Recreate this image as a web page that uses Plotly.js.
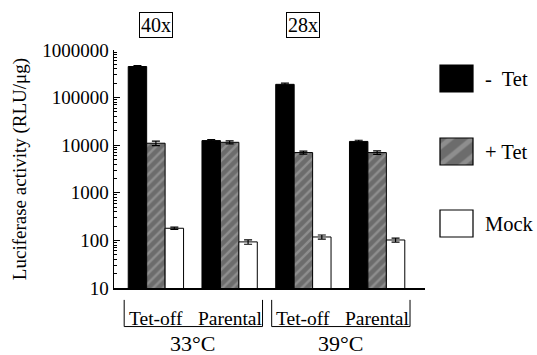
<!DOCTYPE html>
<html>
<head>
<meta charset="utf-8">
<script src="https://cdn.plot.ly/plotly-3.0.1.min.js"></script>
<style>html,body{margin:0;padding:0;background:#fff;}#chart{width:537px;height:355px;}</style>
</head>
<body>
<div id="chart"></div>
<script>
// ---- data ----
var groupLabels = ['Tet-off', 'Parental', 'Tet-off', 'Parental'];
var groupPos = [0, 1, 2, 3];
var temps = ['33°C', '39°C'];
var foldLabels = ['40x', '28x'];
var seriesNames = ['-  Tet', '+ Tet', 'Mock'];
var minusTet = [450000, 12500, 190000, 12000];
var minusTetErr = [20000, 600, 12000, 700];
var plusTet = [11000, 11500, 7000, 7000];
var plusTetErr = [1200, 800, 500, 600];
var mock = [180, 93, 118, 102];
var mockErr = [10, 10, 12, 10];

var FONT = 'Liberation Serif';

function errbar(arr) {
  return {type: 'data', array: arr, visible: true, color: '#000', thickness: 1.2, width: 4};
}

var traces = [
  {type: 'bar', name: seriesNames[0], x: groupPos, y: minusTet, error_y: errbar(minusTetErr),
   legendgroup: 'a',
   marker: {color: '#000', line: {color: '#000', width: 1}}},
  {type: 'bar', name: seriesNames[1], x: groupPos, y: plusTet, error_y: errbar(plusTetErr),
   legendgroup: 'b',
   marker: {color: '#777', line: {color: '#000', width: 1},
            pattern: {shape: '/', bgcolor: '#6c6c6c', fgcolor: '#8e8e8e', size: 7, solidity: 0.35, fillmode: 'replace'}}},
  {type: 'bar', name: seriesNames[2], x: groupPos, y: mock, error_y: errbar(mockErr),
   legendgroup: 'c',
   marker: {color: '#fff', line: {color: '#000', width: 1}}}
];

var annotations = [];
var shapes = [];
// fold-change boxes above groups 0 and 2
foldLabels.forEach(function (t, i) {
  annotations.push({text: t, x: groupPos[i * 2], xref: 'x', y: 1.105, yref: 'paper',
    showarrow: false, font: {family: FONT, size: 20, color: '#000'},
    bordercolor: '#000', borderwidth: 1, borderpad: 1, xanchor: 'center', yanchor: 'middle'});
});
// group labels
groupLabels.forEach(function (t, i) {
  annotations.push({text: t, x: groupPos[i], xref: 'x', y: -0.128, yref: 'paper',
    showarrow: false, font: {family: FONT, size: 19.5, color: '#000'}, xanchor: 'center', yanchor: 'middle'});
});
// temperature labels + brackets
temps.forEach(function (t, i) {
  var a = groupPos[i * 2], b = groupPos[i * 2 + 1];
  annotations.push({text: t, x: (a + b) / 2, xref: 'x', y: -0.232, yref: 'paper',
    showarrow: false, font: {family: FONT, size: 22, color: '#000'}, xanchor: 'center', yanchor: 'middle'});
  var l = a - 0.43, r = b + 0.446;
  shapes.push({type: 'path', xref: 'x', yref: 'paper',
    path: 'M' + l + ',' + (-0.05) + ' L' + l + ',' + (-0.162) + ' L' + r + ',' + (-0.162) + ' L' + r + ',' + (-0.05),
    line: {color: '#000', width: 1}});
});

var layout = {
  width: 537, height: 355,
  margin: {l: 114, r: 111, t: 50, b: 67},
  paper_bgcolor: '#fff', plot_bgcolor: '#fff',
  font: {family: FONT, color: '#000'},
  barmode: 'group', bargap: 0.25, bargroupgap: 0,
  showlegend: true,
  legend: {x: 1.02, xanchor: 'left', y: 0.965, yanchor: 'top', font: {family: FONT, size: 20.5},
           tracegroupgap: 46, itemclick: false, bgcolor: 'rgba(0,0,0,0)'},
  xaxis: {range: [-0.568, 3.649], showline: true, linecolor: '#000', linewidth: 1.5,
          showticklabels: false, ticks: '', showgrid: false, zeroline: false, fixedrange: true},
  yaxis: {type: 'log', range: [1, 6], showline: true, linecolor: '#000', linewidth: 1.5,
          tickvals: [10, 100, 1000, 10000, 100000, 1000000],
          ticktext: ['10', '100', '1000', '10000', '100000', '1000000'],
          ticks: 'inside', ticklen: 6, tickwidth: 1, tickcolor: '#000',
          minor: {ticks: 'inside', ticklen: 3, tickcolor: '#000', dtick: 'D1', showgrid: false},
          tickfont: {family: FONT, size: 19}, showgrid: false, zeroline: false,
          title: {text: 'Luciferase activity (RLU/μg)', font: {family: FONT, size: 19}, standoff: 10},
          automargin: false},
  annotations: annotations,
  shapes: shapes
};

// target legend geometry (screen px)
var swatchLeft = 440, swatchW = 33, swatchH = 27, swatchTops = [65, 138, 210], textLeft = 485;

Plotly.newPlot('chart', traces, layout, {staticPlot: true, displayModeBar: false}).then(function () {
  var root = document.getElementById('chart').getBoundingClientRect();
  document.querySelectorAll('.legend, .legend *').forEach(function (el) {
    el.removeAttribute('clip-path');
  });
  var items = document.querySelectorAll('.legend .traces');
  items.forEach(function (item, i) {
    var p = item.querySelector('.legendpoints path');
    var t = item.querySelector('.legendtext');
    if (p) {
      var bb = p.getBBox();
      var ctm = p.parentNode.getScreenCTM();
      var sx = swatchW / bb.width, sy = swatchH / bb.height;
      var lx = swatchLeft + root.left - ctm.e, ly = swatchTops[i] + root.top - ctm.f;
      p.setAttribute('transform', 'translate(' + (lx - bb.x * sx) + ',' + (ly - bb.y * sy) + ') scale(' + sx + ',' + sy + ')');
      p.style.strokeWidth = (1 / Math.min(sx, sy)) + 'px';
    }
    if (t) {
      var r = t.getBoundingClientRect();
      var dx = textLeft + root.left - r.left;
      var dy = (swatchTops[i] + swatchH / 2 + root.top) - (r.top + r.height / 2);
      t.setAttribute('transform', 'translate(' + dx + ',' + dy + ')');
    }
  });
});
</script>
</body>
</html>
